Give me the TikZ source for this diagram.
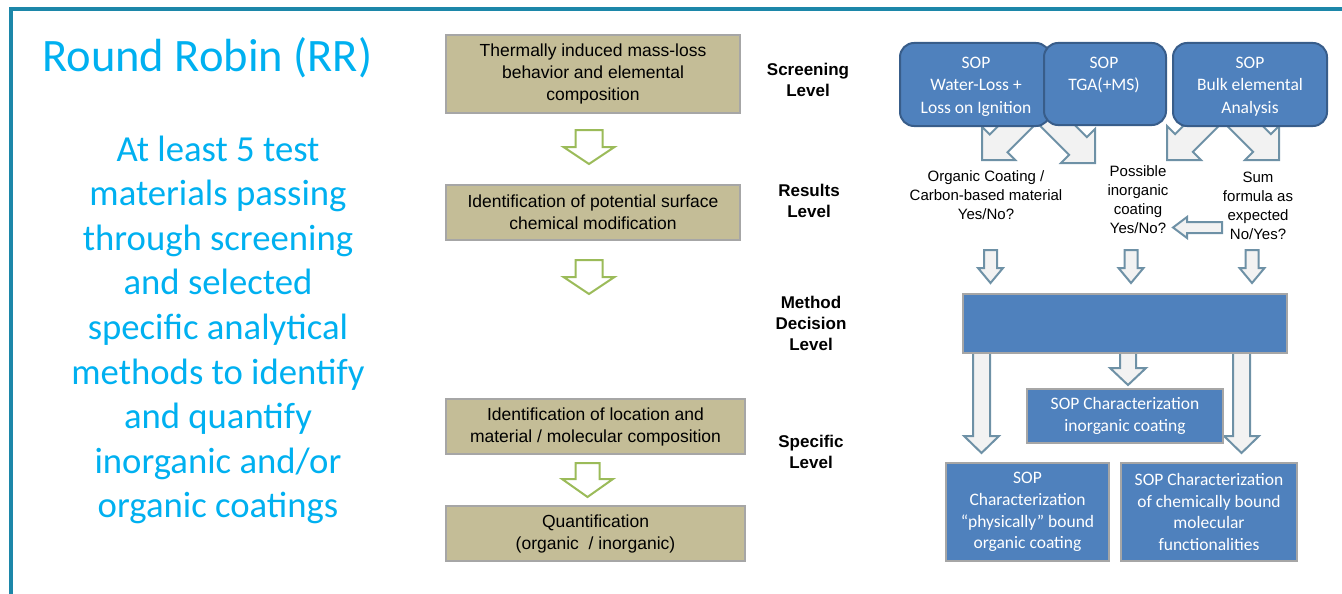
\documentclass[tikz,border=0pt]{standalone}
\usepackage{fontspec}
\setmainfont{Liberation Sans}
\newfontfamily\carlito{Carlito}
\definecolor{frameteal}{HTML}{1C87A9}
\definecolor{titlecyan}{HTML}{00B0F0}
\definecolor{tanfill}{HTML}{C4BD97}
\definecolor{boxgray}{HTML}{A6A6A6}
\definecolor{stepgreen}{HTML}{9BBB59}
\definecolor{sopblue}{HTML}{4F81BD}
\definecolor{sopedge}{HTML}{385D8A}
\definecolor{arrowfill}{HTML}{F2F2F2}
\definecolor{arrowedge}{HTML}{6E91A6}

% block arrow: style, tip, direction angle, head length, head half width,
% shaft half width, shaft length
\newcommand\blockarrow[7]{%
  \begin{scope}[shift={#2}, rotate=#3]
    \draw[#1] (0,0) -- (-#4,#5) -- (-#4,#6) -- (-#4-#7,#6) -- (-#4-#7,-#6)
      -- (-#4,-#6) -- (-#4,-#5) -- cycle;
  \end{scope}}

\begin{document}
\begin{tikzpicture}[x=1pt,y=-1pt,
  every node/.style={inner sep=0pt},
  frameline/.style={draw=frameteal, line width=4pt},
  tanbox/.style={draw=boxgray, line width=1.5pt, fill=tanfill, align=center,
    font=\fontsize{17.5}{22}\selectfont},
  levellabel/.style={align=center, font=\bfseries\fontsize{17}{21}\selectfont},
  sopbox/.style={draw=sopedge, line width=2pt, fill=sopblue, rounded corners=14pt},
  soptext/.style={align=center, text=white, font=\carlito\fontsize{17.5}{22.5}\selectfont},
  flatbox/.style={draw=boxgray, line width=1.5pt, fill=sopblue, align=center, text=white,
    font=\carlito\fontsize{17.5}{21.7}\selectfont},
  resulttext/.style={align=center, font=\fontsize{15}{19}\selectfont},
  greenarrow/.style={draw=stepgreen, fill=white, line width=2pt},
  grayarrow/.style={draw=arrowedge, fill=arrowfill, line width=2pt, line join=miter},
]
\useasboundingbox (0,0) rectangle (1342,594);

% slide frame
\draw[frameline] (11,600) -- (11,9.2) -- (1350,9.2);

% left column texts
\node[anchor=base west, text=titlecyan, font=\carlito\fontsize{46.5}{55}\selectfont]
  (title) at (42,72) {Round Robin (RR)};
\node[align=center, text=titlecyan, font=\carlito\fontsize{36.7}{44.6}\selectfont]
  (goal) at (218,330) {At least 5 test\\materials passing\\through screening\\and selected\\specific analytical\\methods to identify\\and quantify\\inorganic and/or\\organic coatings};

% workflow steps
\node[tanbox, minimum width=294, minimum height=78] (s1) at (593,74)
  {Thermally induced mass-loss\\behavior and elemental\\composition};
\node[tanbox, minimum width=294, minimum height=55] (s2) at (593,212.5)
  {Identification of potential surface\\chemical modification};
\node[tanbox, minimum width=299, minimum height=55] (s3) at (595.5,426.5)
  {Identification of location and\\material / molecular composition};
\node[tanbox, minimum width=299, minimum height=55] (s4) at (595.5,533.5)
  {Quantification\\(organic\ \ / inorganic)};

\blockarrow{greenarrow}{(589,164)}{270}{17}{25.5}{13.5}{17}
\blockarrow{greenarrow}{(589,294)}{270}{17}{25.5}{13.5}{17}
\blockarrow{greenarrow}{(587.5,497)}{270}{18}{25.5}{12}{16}

% level labels
\node[levellabel] (lv1) at (808,80.4) {Screening\\Level};
\node[levellabel] (lv2) at (809,201.3) {Results\\Level};
\node[levellabel] (lv3) at (811,323.8) {Method\\Decision\\Level};
\node[levellabel] (lv4) at (811,452.3) {Specific\\Level};

% diagonal arrows leaving the screening SOPs
\blockarrow{grayarrow}{(982,160)}{225}{23.5}{23.5}{12.5}{47}
\blockarrow{grayarrow}{(1095,163)}{315}{24}{24}{12.5}{47}
\blockarrow{grayarrow}{(1167,160)}{225}{24}{24}{12.5}{47}
\blockarrow{grayarrow}{(1279,160)}{315}{24}{24}{12.5}{47}

% screening SOPs
\node[sopbox, minimum width=150, minimum height=83] (sopw) at (975,84.5) {};
\node[sopbox, minimum width=122, minimum height=82] (sopt) at (1105,84) {};
\node[sopbox, minimum width=154, minimum height=83] (sopb) at (1250,84.5) {};
\node[soptext] (sopwt) at (976,86.4) {SOP\\Water-Loss +\\Loss on Ignition};
\node[soptext] (soptt) at (1104,74.9) {SOP\\TGA(+MS)};
\node[soptext] (sopbt) at (1250,86.4) {SOP\\Bulk elemental\\Analysis};

% results
\node[resulttext] (r1) at (986,195.2) {Organic Coating /\\Carbon-based material\\Yes/No?};
\node[resulttext] (r2) at (1138,199.6) {Possible\\inorganic\\coating\\Yes/No?};
\node[resulttext] (r3) at (1258,205.7) {Sum\\formula as\\expected\\No/Yes?};

\blockarrow{grayarrow}{(1173,227.5)}{180}{14}{10.5}{5.5}{35}
\blockarrow{grayarrow}{(990.5,283)}{270}{15}{12.5}{6.5}{18}
\blockarrow{grayarrow}{(1131,283)}{270}{15}{12.5}{6.5}{18}
\blockarrow{grayarrow}{(1252,283)}{270}{15}{12.5}{6.5}{18}

% method decision and specific SOPs
\blockarrow{grayarrow}{(981.5,453)}{270}{17}{17.5}{8.5}{91}
\blockarrow{grayarrow}{(1128,385)}{270}{17}{18}{8}{23}
\blockarrow{grayarrow}{(1241.5,453)}{270}{17}{17.5}{8.5}{91}
\node[flatbox, minimum width=324, minimum height=59] (decide) at (1125,323.5) {};
\node[flatbox, minimum width=196, minimum height=54] (inorg) at (1125,416)
  {SOP Characterization\\inorganic coating};
\node[flatbox, minimum width=163, minimum height=98] (phys) at (1027.5,512)
  {SOP\\Characterization\\“physically” bound\\organic coating};
\node[flatbox, minimum width=176, minimum height=98] (chem) at (1209,512)
  {SOP Characterization\\of chemically bound\\molecular\\functionalities};
\end{tikzpicture}
\end{document}
